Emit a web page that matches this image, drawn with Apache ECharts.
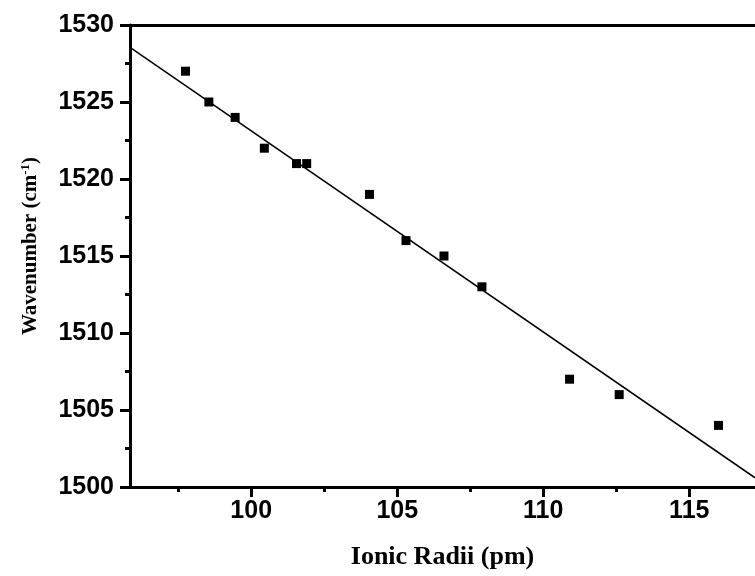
<!DOCTYPE html>
<html>
<head>
<meta charset="utf-8">
<title>Wavenumber vs Ionic Radii</title>
<script src="https://cdn.jsdelivr.net/npm/echarts@6/dist/echarts.min.js"></script>
<style>
  html, body { margin: 0; padding: 0; background: #fff; }
  #chart { width: 755px; height: 576px; }
</style>
</head>
<body>
<div id="chart"></div>
<script>
// ionic radius (pm) and wavenumber (cm-1) of each sample
const radii = [97.75, 98.55, 99.45, 100.45, 101.55, 101.9, 104.05, 105.3, 106.6, 107.9, 110.9, 112.6, 116.0];
const wavenumbers = [1527, 1525, 1524, 1522, 1521, 1521, 1519, 1516, 1515, 1513, 1507, 1506, 1504];
// linear fit, end points read at the plot edges
const fitX = [95.85, 117.25];
const fitY = [1528.55, 1500.6];
const xMajorTicks = [100, 105, 110, 115];
const xMinorTicks = [97.5, 102.5, 107.5, 112.5];
const xRange = [95.85, 117.25];
const yRange = [1500, 1530];

document.addEventListener("DOMContentLoaded", function () {
  const chart = echarts.init(document.getElementById("chart"));

  const points = radii.map((r, i) => [r, wavenumbers[i]]);
  const fit = fitX.map((x, i) => [x, fitY[i]]);

  const labelFont = { color: "#000", fontFamily: "Liberation Sans", fontWeight: "bold", fontSize: 25 };
  const serif = { color: "#000", fontFamily: "Liberation Serif", fontWeight: "bold" };

  const option = {
    animation: false,
    backgroundColor: "#fff",
    grid: { left: 130, top: 25, right: 0, bottom: 89 },
    xAxis: [
      {
        type: "value",
        position: "bottom",
        min: xRange[0],
        max: xRange[1],
        name: "Ionic Radii (pm)",
        nameLocation: "middle",
        nameGap: 57,
        nameTextStyle: Object.assign({ fontSize: 26 }, serif),
        axisLine: { onZero: false, lineStyle: { color: "#000", width: 3 } },
        axisTick: { customValues: xMajorTicks, length: 10, lineStyle: { color: "#000", width: 3 } },
        axisLabel: Object.assign({ customValues: xMajorTicks, margin: 12 }, labelFont),
        splitLine: { show: false },
      },
      {
        type: "value",
        position: "bottom",
        min: xRange[0],
        max: xRange[1],
        axisLine: { show: false, onZero: false },
        axisTick: { customValues: xMinorTicks, length: 5, lineStyle: { color: "#000", width: 3 } },
        axisLabel: { show: false },
        splitLine: { show: false },
      },
      {
        type: "value",
        position: "top",
        min: xRange[0],
        max: xRange[1],
        axisLine: { onZero: false, lineStyle: { color: "#000", width: 3 } },
        axisTick: { show: false },
        axisLabel: { show: false },
        splitLine: { show: false },
      },
    ],
    yAxis: {
      type: "value",
      min: yRange[0],
      max: yRange[1],
      interval: 5,
      name: "{n|Wavenumber (cm}{s|-1}{n|)}",
      nameLocation: "middle",
      nameGap: 88,
      nameRotate: 90,
      nameTextStyle: {
        padding: [0, 0, 0, 20],
        rich: {
          n: Object.assign({ fontSize: 21 }, serif),
          s: Object.assign({ fontSize: 13, verticalAlign: "top", padding: [0, 0, 10, 0] }, serif),
        },
      },
      axisLine: { onZero: false, lineStyle: { color: "#000", width: 3 } },
      axisTick: { length: 10, lineStyle: { color: "#000", width: 3 } },
      minorTick: { show: true, splitNumber: 2, length: 5, lineStyle: { color: "#000", width: 3 } },
      axisLabel: Object.assign({ margin: 16, formatter: (v) => String(v) }, labelFont),
      splitLine: { show: false },
    },
    series: [
      {
        name: "Fit",
        type: "line",
        data: fit,
        symbol: "none",
        lineStyle: { color: "#000", width: 1.5 },
        z: 2,
      },
      {
        name: "Data",
        type: "scatter",
        data: points,
        symbol: "rect",
        symbolSize: 9,
        itemStyle: { color: "#000", opacity: 1 },
        z: 3,
      },
    ],
  };

  chart.setOption(option);
});
</script>
</body>
</html>
